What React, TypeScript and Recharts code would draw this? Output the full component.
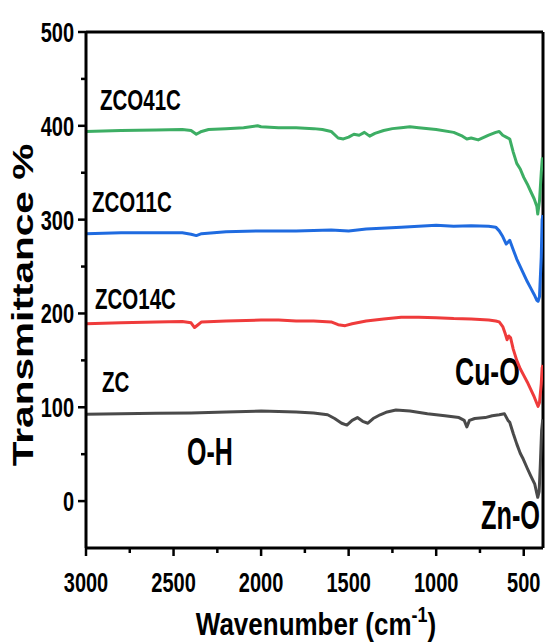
import React from "react";
import { LineChart, Line, XAxis, YAxis, ReferenceLine } from "recharts";

const xTicks = [3000, 2750, 2500, 2250, 2000, 1750, 1500, 1250, 1000, 750, 500];
const xMajor = [3000, 2500, 2000, 1500, 1000, 500];
const yTicks = [0, 50, 100, 150, 200, 250, 300, 350, 400, 450, 500];
const yMajor = [0, 100, 200, 300, 400, 500];

const zco41cWave = [3000, 2800, 2600, 2450, 2400, 2370, 2340, 2300, 2200, 2100, 2020, 2000, 1900, 1800, 1700, 1650, 1600, 1560, 1530, 1500, 1470, 1440, 1410, 1380, 1350, 1300, 1250, 1200, 1150, 1100, 1000, 900, 850, 825, 800, 760, 700, 660, 640, 620, 600, 580, 560, 540, 520, 500, 480, 460, 440, 425, 420, 410, 400, 394, 390];
const zco41cValues = [394, 395, 395.5, 396, 395, 391, 394, 396, 397, 398, 400, 399, 398, 398, 397, 396, 394, 387, 386, 388, 391, 390, 393, 389, 392, 395, 397, 398, 399, 398, 396, 393, 389, 386, 387, 385, 390, 393, 394, 390, 388, 386, 372, 360, 354, 345, 338, 330, 322, 314, 306, 320, 350, 365, 366];

const zco11cWave = [3000, 2800, 2600, 2450, 2400, 2370, 2340, 2200, 2000, 1800, 1600, 1500, 1400, 1200, 1000, 900, 800, 700, 660, 640, 620, 600, 590, 580, 560, 540, 520, 500, 480, 460, 440, 425, 418, 410, 400, 395, 390];
const zco11cValues = [285, 286, 286, 286, 284.5, 283, 285, 287, 288, 288, 289, 288, 290, 292, 294, 293, 293.5, 293, 292, 288, 282, 274, 276, 278, 268, 258, 250, 242, 234, 227, 220, 214, 213, 218, 260, 300, 305];

const zco14cWave = [3000, 2800, 2600, 2450, 2400, 2380, 2360, 2340, 2200, 2000, 1900, 1800, 1700, 1600, 1560, 1520, 1480, 1400, 1300, 1200, 1100, 1000, 900, 800, 700, 660, 640, 620, 605, 595, 585, 575, 560, 540, 520, 500, 480, 460, 440, 425, 418, 410, 400, 395, 390];
const zco14cValues = [189, 190, 191, 191.5, 190, 185, 188, 191, 192, 193, 193, 192, 192, 191, 188, 187, 189, 192, 194, 196, 196, 195.5, 194.5, 194, 193, 192, 191, 186, 178, 172, 176, 174, 162, 150, 141, 134, 127, 119, 111, 104, 101, 105, 125, 142, 145];

const zcWave = [3000, 2800, 2600, 2400, 2200, 2000, 1900, 1800, 1700, 1620, 1580, 1540, 1510, 1480, 1450, 1420, 1390, 1360, 1320, 1280, 1230, 1150, 1050, 950, 870, 840, 825, 810, 780, 720, 680, 640, 610, 590, 580, 560, 540, 520, 506, 480, 460, 437, 425, 420, 412, 405, 398, 392, 390];
const zcValues = [92.5, 93, 93.5, 94, 95, 96, 95.5, 95, 94, 92, 88, 83, 81, 86, 89, 85, 83, 88, 92, 95, 97, 96, 93, 91, 89, 86, 79, 86, 88, 89, 91, 92, 93, 86, 84, 72, 61, 51, 46, 35, 27, 18, 8, 4, 10, 40, 75, 86, 87];

const toRows = (w: number[], v: number[]) => w.map((x, i) => ({ wn: x, t: v[i] }));

const FONT = "'Liberation Sans', Arial, Helvetica, sans-serif";

function SText(props: { x: number; y: number; size: number; sy?: number; anchor?: string; children: any }) {
  const { x, y, size, sy = 1.4, anchor = "start", children } = props;
  return (
    <text
      transform={`translate(${x},${y}) scale(1,${sy})`}
      fontSize={size}
      fontWeight="bold"
      fontFamily={FONT}
      textAnchor={anchor as any}
      fill="#000"
    >
      {children}
    </text>
  );
}

function XTick(props: any) {
  const { x, y, payload } = props;
  const major = xMajor.includes(payload.value);
  return (
    <g>
      <line x1={x} x2={x} y1={y} y2={y + (major ? 8 : 5)} stroke="#000" strokeWidth={2.5} />
      {major && (
        <SText x={x} y={y + 44} size={20} anchor="middle">
          {payload.value}
        </SText>
      )}
    </g>
  );
}

function YTick(props: any) {
  const { x, y, payload } = props;
  const major = yMajor.includes(payload.value);
  return (
    <g>
      <line x1={x} x2={x - (major ? 8 : 5)} y1={y} y2={y} stroke="#000" strokeWidth={2.5} />
      {major && (
        <SText x={x - 12} y={y + 10} size={20} anchor="end">
          {payload.value}
        </SText>
      )}
    </g>
  );
}

export default function App() {
  return (
    <div style={{ position: "absolute", left: 0, top: 0, background: "#fff" }}>
      <LineChart width={546} height={644} margin={{ top: 32, right: 3, bottom: 0, left: 0 }}>
        <XAxis
          dataKey="wn"
          type="number"
          domain={[390, 3000]}
          reversed
          allowDataOverflow
          ticks={xTicks}
          interval={0}
          height={96}
          tickSize={0}
          tickMargin={0}
          tickLine={false}
          tick={<XTick />}
          axisLine={{ stroke: "#000", strokeWidth: 3 }}
        />
        <YAxis
          type="number"
          domain={[-50, 500]}
          allowDataOverflow
          ticks={yTicks}
          interval={0}
          width={86}
          tickSize={0}
          tickMargin={0}
          tickLine={false}
          tick={<YTick />}
          axisLine={{ stroke: "#000", strokeWidth: 3 }}
        />
        <ReferenceLine y={500} stroke="#000" strokeWidth={3} />
        <ReferenceLine x={390} stroke="#000" strokeWidth={3} />
        <Line data={toRows(zcWave, zcValues)} dataKey="t" stroke="#4a4a4a" strokeWidth={3} dot={false} isAnimationActive={false} strokeLinejoin="round" />
        <Line data={toRows(zco14cWave, zco14cValues)} dataKey="t" stroke="#ef3b3b" strokeWidth={3} dot={false} isAnimationActive={false} strokeLinejoin="round" />
        <Line data={toRows(zco11cWave, zco11cValues)} dataKey="t" stroke="#1f6be0" strokeWidth={3} dot={false} isAnimationActive={false} strokeLinejoin="round" />
        <Line data={toRows(zco41cWave, zco41cValues)} dataKey="t" stroke="#3dae64" strokeWidth={3} dot={false} isAnimationActive={false} strokeLinejoin="round" />
        <SText x={100} y={110} size={20.5}>ZCO41C</SText>
        <SText x={92} y={212} size={20.5}>ZCO11C</SText>
        <SText x={95} y={309} size={20.5}>ZCO14C</SText>
        <SText x={102} y={392} size={20.5}>ZC</SText>
        <SText x={187} y={465} size={25} sy={1.55}>O-H</SText>
        <SText x={455} y={385} size={26.5} sy={1.47}>Cu-O</SText>
        <SText x={481} y={529} size={25.3} sy={1.6}>Zn-O</SText>
        <text
          transform="translate(33,305) rotate(-90) scale(1.4,1)"
          fontSize={29}
          fontWeight="bold"
          fontFamily={FONT}
          textAnchor="middle"
          fill="#000"
        >
          Transmittance %
        </text>
        <text
          transform="translate(316,635) scale(1,1.2)"
          fontSize={26}
          fontWeight="bold"
          fontFamily={FONT}
          textAnchor="middle"
          fill="#000"
        >
          Wavenumber (cm
          <tspan fontSize={18} dy={-11}>-1</tspan>
          <tspan dy={11}>)</tspan>
        </text>
      </LineChart>
    </div>
  );
}
